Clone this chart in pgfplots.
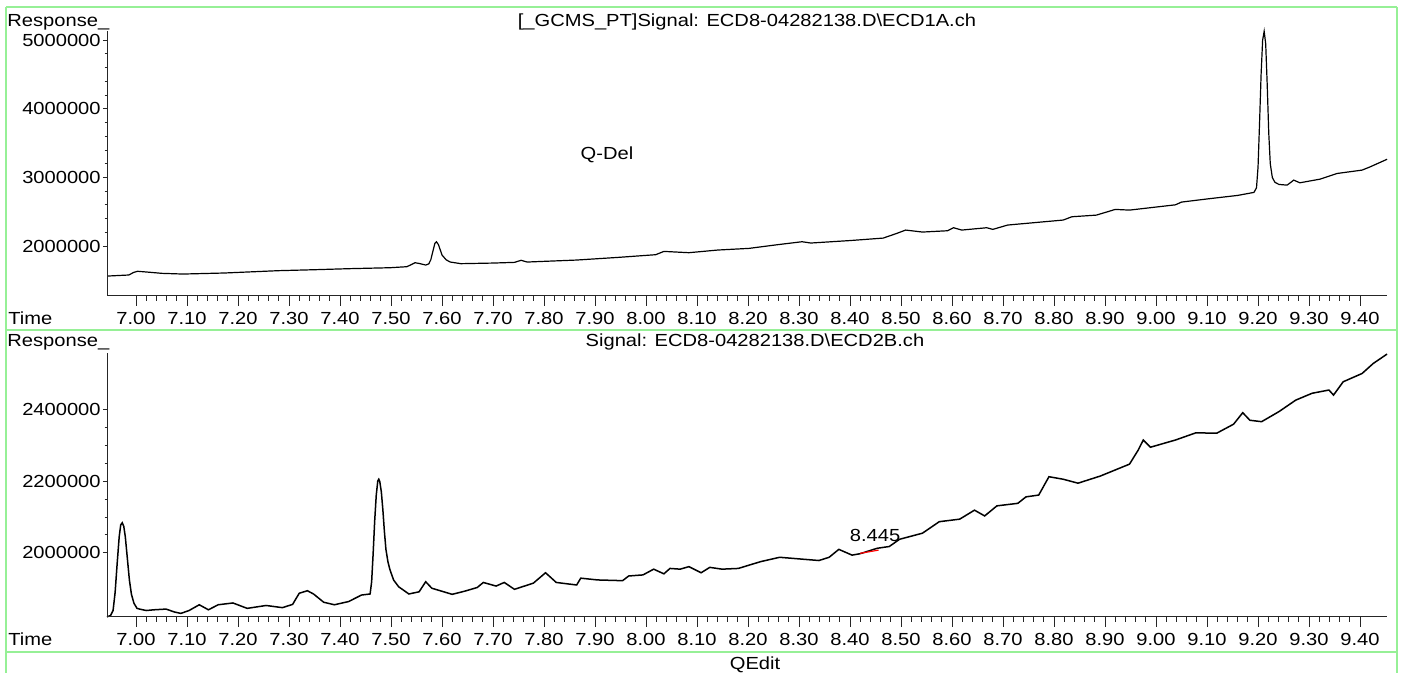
\documentclass[border=0pt]{standalone}
\usepackage{fontspec}
\setmainfont{Liberation Sans}[FakeStretch=1.15]
\usepackage{pgfplots}
\usepackage{pgfplotstable}
\pgfplotsset{compat=1.18}
\definecolor{frameg}{RGB}{150,240,150}

\pgfplotstableread{
t v
6.945 1563000
6.986 1578000
6.995 1615000
7.003 1632000
7.020 1622000
7.051 1602000
7.092 1592000
7.173 1607000
7.279 1641000
7.350 1655000
7.417 1670000
7.498 1684000
7.531 1699000
7.540 1730000
7.547 1757000
7.556 1745000
7.568 1723000
7.574 1740000
7.578 1800000
7.582 1920000
7.586 2040000
7.589 2063000
7.593 2020000
7.600 1869000
7.608 1800000
7.616 1767000
7.637 1743000
7.700 1752000
7.742 1762000
7.755 1792000
7.767 1767000
7.864 1796000
7.946 1835000
8.019 1874000
8.035 1922000
8.084 1903000
8.141 1942000
8.202 1966000
8.257 2019000
8.306 2063000
8.323 2044000
8.400 2080000
8.465 2116000
8.490 2180000
8.509 2233000
8.542 2204000
8.591 2223000
8.603 2267000
8.619 2233000
8.668 2267000
8.680 2243000
8.709 2306000
8.818 2379000
8.835 2427000
8.883 2451000
8.905 2500000
8.920 2534000
8.948 2524000
9.038 2601000
9.050 2641000
9.103 2689000
9.160 2738000
9.192 2782000
9.197 2850000
9.200 3150000
9.203 3800000
9.206 4500000
9.209 5000000
9.212 5130000
9.215 4950000
9.218 4350000
9.221 3650000
9.224 3200000
9.228 3000000
9.233 2930000
9.241 2898000
9.257 2888000
9.270 2961000
9.282 2922000
9.322 2976000
9.355 3058000
9.404 3107000
9.420 3155000
9.453 3265000
}\topdata

\pgfplotstableread{
t v
6.943 1822500
6.950 1826000
6.955 1840000
6.959 1890000
6.963 1970000
6.967 2045000
6.970 2078000
6.973 2084000
6.976 2074000
6.979 2045000
6.983 1985000
6.987 1925000
6.991 1885000
6.996 1860000
7.002 1846000
7.007 1844000
7.020 1840000
7.035 1842000
7.059 1844000
7.075 1836000
7.088 1832000
7.104 1840000
7.124 1856000
7.142 1842000
7.161 1856000
7.190 1861000
7.218 1846000
7.255 1854000
7.287 1848000
7.307 1857000
7.320 1888000
7.336 1895000
7.348 1886000
7.368 1863000
7.389 1856000
7.417 1865000
7.442 1883000
7.459 1886000
7.462 1920000
7.465 2000000
7.468 2090000
7.471 2160000
7.474 2200000
7.476 2205000
7.478 2198000
7.481 2170000
7.484 2120000
7.487 2060000
7.490 2010000
7.494 1975000
7.498 1953000
7.505 1925000
7.515 1906000
7.535 1886000
7.555 1892000
7.568 1920000
7.580 1902000
7.620 1885000
7.645 1894000
7.669 1904000
7.681 1918000
7.706 1908000
7.722 1918000
7.742 1899000
7.779 1916000
7.803 1945000
7.824 1918000
7.864 1911000
7.872 1930000
7.905 1925000
7.954 1923000
7.966 1936000
7.994 1939000
8.015 1955000
8.035 1942000
8.047 1957000
8.067 1955000
8.084 1962000
8.108 1945000
8.125 1960000
8.149 1955000
8.181 1957000
8.204 1967000
8.225 1976000
8.262 1988000
8.339 1979000
8.359 1988000
8.378 2010000
8.404 1994000
8.420 1998000
8.453 2013000
8.477 2018000
8.497 2038000
8.542 2055000
8.575 2087000
8.615 2094000
8.644 2119000
8.664 2103000
8.688 2131000
8.729 2138000
8.745 2156000
8.770 2161000
8.790 2212000
8.818 2205000
8.847 2194000
8.891 2214000
8.948 2247000
8.965 2286000
8.975 2314000
8.989 2294000
9.038 2314000
9.078 2334000
9.119 2333000
9.152 2358000
9.170 2390000
9.184 2369000
9.207 2365000
9.241 2393000
9.274 2425000
9.306 2444000
9.339 2453000
9.348 2439000
9.367 2476000
9.404 2499000
9.426 2527000
9.453 2553000
}\botdata

\pgfplotsset{
  /pgf/number format/assume math mode=true,
  base/.style={
    scale only axis, width=640pt,
    xmin=6.9431, xmax=9.4529,
    axis lines*=left,
    axis line style={black!85, line width=0.5pt},
    tick style={black!85, line width=0.5pt},
    tick align=outside,
    clip=false,
    scaled x ticks=false, scaled y ticks=false,
    tick label style={font=\fontsize{8.75}{10.5}\selectfont},
  },
  xpart/.style={
    base,
    ytick=\empty,
    xtick={7.0,7.1,7.2,7.3,7.4,7.5,7.6,7.7,7.8,7.9,8.0,8.1,8.2,8.3,8.4,8.5,8.6,8.7,8.8,8.9,9.0,9.1,9.2,9.3,9.4},
    minor x tick num=4,
    major tick length=5pt, minor tick length=2.5pt,
    xticklabel={\pgfmathprintnumber[fixed,fixed zerofill,precision=2]{\tick}},
    xticklabel style={anchor=base, yshift=-9.5pt},
  },
  ypart/.style={
    base,
    xtick=\empty,
    major tick length=2pt, minor tick length=1.25pt,
    yticklabel style={anchor=east, inner sep=0pt, xshift=-1pt},
  },
}

\begin{document}
\begin{tikzpicture}[font=\fontsize{8.75}{10.5}\selectfont]
\useasboundingbox (0,0) rectangle (700.5pt,336.5pt);

% top panel
\begin{axis}[xpart, at={(53.5pt,188.5pt)}, anchor=south west, height=132.5pt,
  ymin=1272000, ymax=5135000]
  \addplot[black, line width=0.6pt] table[x=t,y=v] {\topdata};
  \node[font=\fontsize{8.75}{10.5}\selectfont] at (axis cs:7.9235,3325000) {Q-Del};
\end{axis}
\begin{axis}[ypart, at={(53.5pt,188.5pt)}, anchor=south west, height=132.5pt,
  ymin=1272000, ymax=5135000,
  ytick={2000000,3000000,4000000,5000000},
  yticklabels={2000000,3000000,4000000,5000000},
  minor y tick num=4]
\end{axis}

% bottom panel
\begin{axis}[xpart, at={(53.5pt,28pt)}, anchor=south west, height=132pt,
  ymin=1822000, ymax=2556000]
  \addplot[black, line width=0.75pt] table[x=t,y=v] {\botdata};
  \addplot[red, line width=0.6pt] coordinates {(8.420,1999000) (8.456,2008000)};
  \node[font=\fontsize{8.75}{10.5}\selectfont] at (axis cs:8.449,2050000) {8.445};
\end{axis}
\begin{axis}[ypart, at={(53.5pt,28pt)}, anchor=south west, height=132pt,
  ymin=1822000, ymax=2556000,
  ytick={2000000,2200000,2400000},
  yticklabels={2000000,2200000,2400000},
  minor y tick num=3]
\end{axis}

\begin{scope}[x=0.5pt, y=-0.5pt, shift={(0pt,336.5pt)}]
  \draw[frameg, line width=0.75pt] (6,7) -- (1397,7);
  \draw[frameg, line width=0.75pt] (6,7) -- (6,673);
  \draw[frameg, line width=0.75pt] (1397,7) -- (1397,673);
  \draw[frameg, line width=0.75pt] (6,330) -- (1397,330);
  \draw[frameg, line width=0.75pt] (6,652) -- (1397,652);
  \node[anchor=base west, inner sep=0pt] at (7,27) {Response\_};
  \node[anchor=base, inner sep=0pt] at (747,27) {[\_GCMS\_PT]Signal: ECD8-04282138.D\textbackslash ECD1A.ch};
  \node[anchor=base west, inner sep=0pt] at (8,325) {Time};
  \node[anchor=base west, inner sep=0pt] at (7,347) {Response\_};
  \node[anchor=base, inner sep=0pt] at (755,347) {Signal: ECD8-04282138.D\textbackslash ECD2B.ch};
  \node[anchor=base west, inner sep=0pt] at (8,646) {Time};
  \node[anchor=base, inner sep=0pt] at (755,670) {QEdit};
\end{scope}
\end{tikzpicture}
\end{document}
